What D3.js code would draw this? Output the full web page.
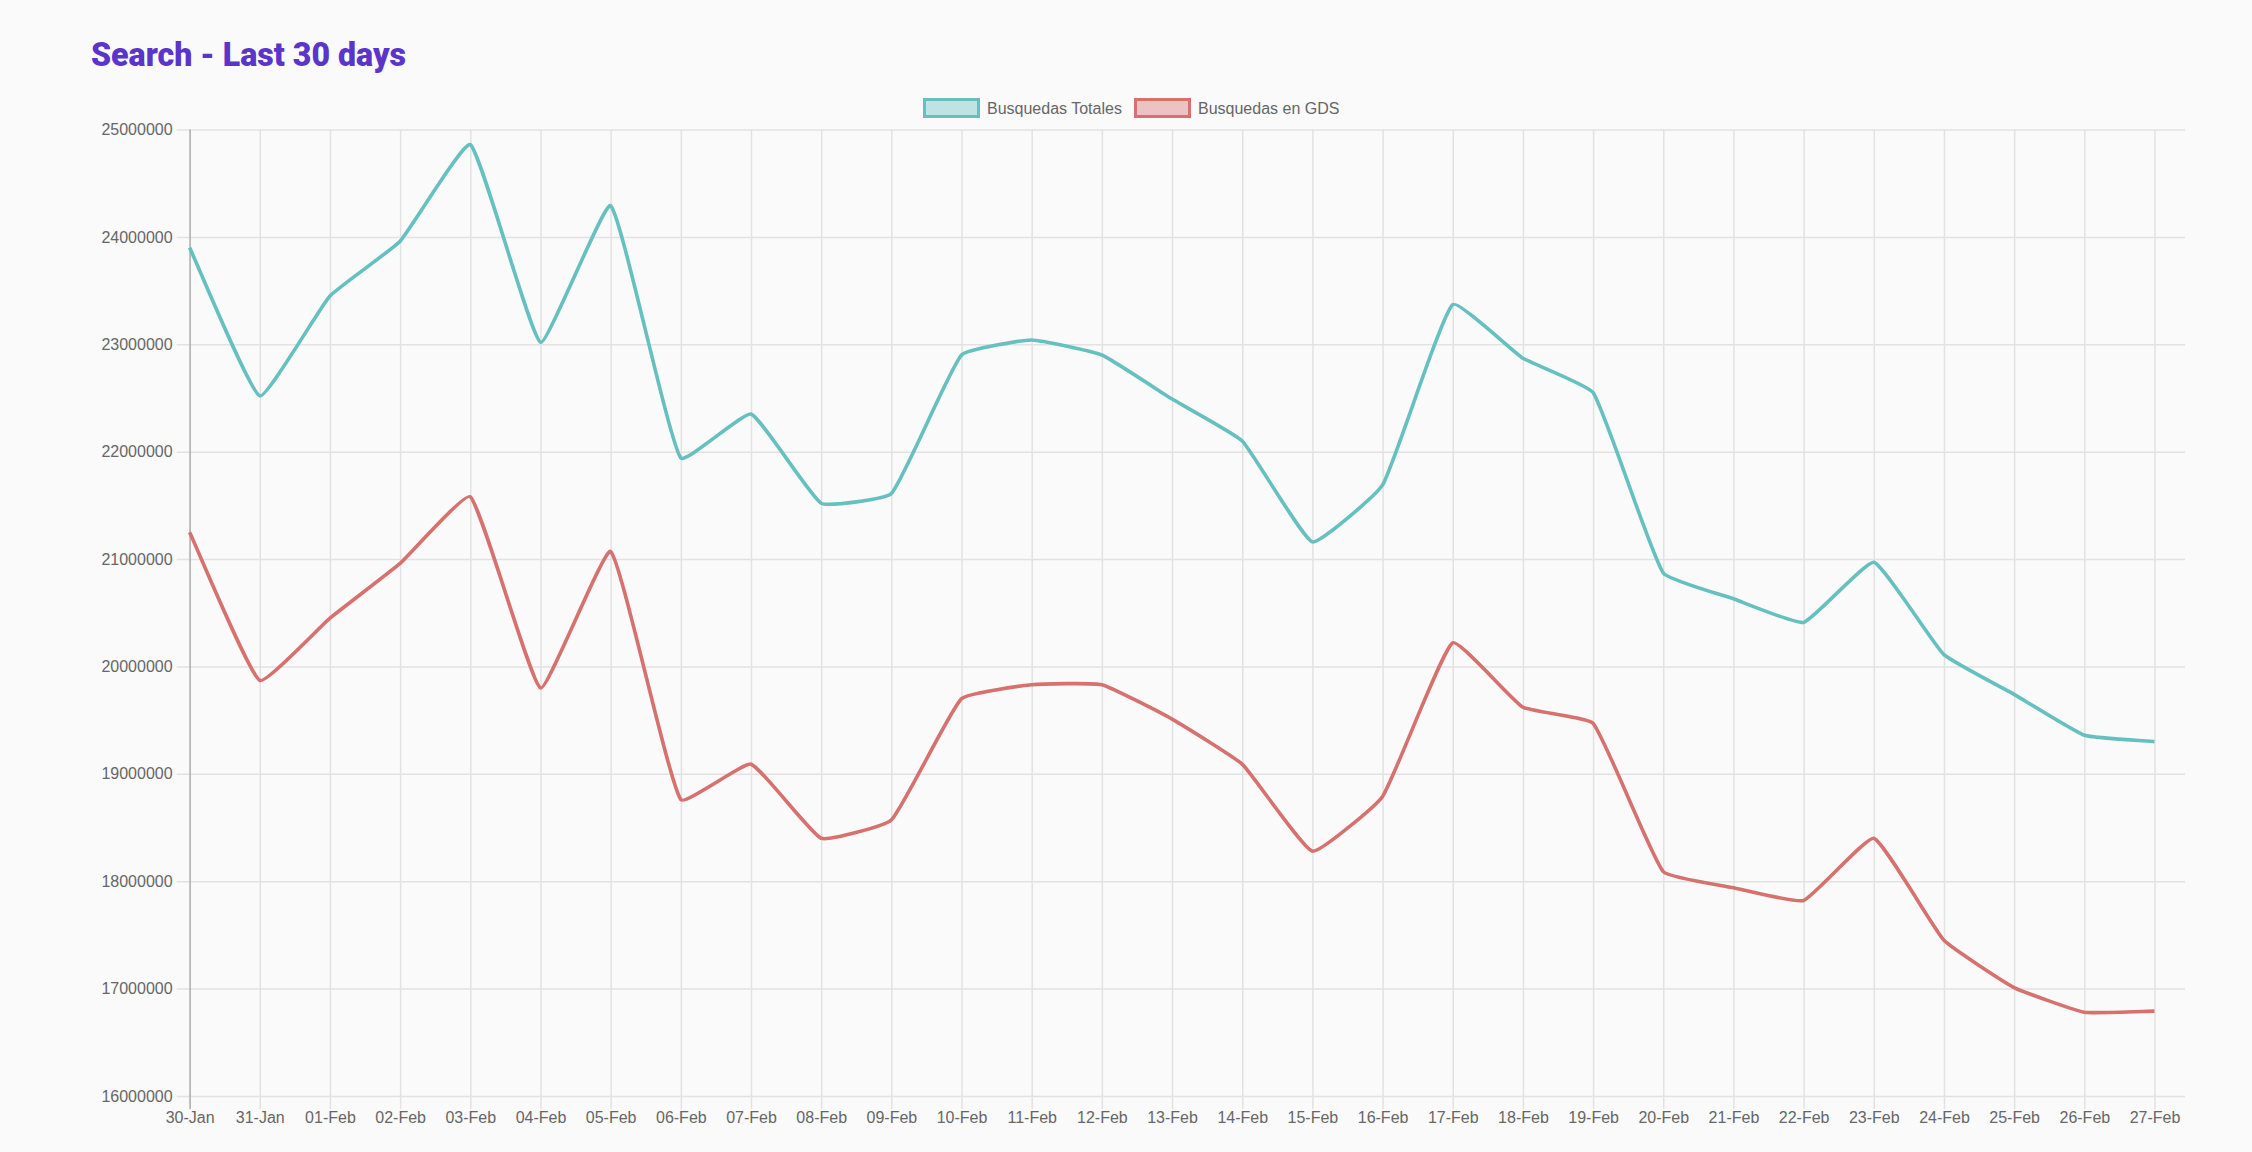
<!DOCTYPE html>
<html>
<head>
<meta charset="utf-8">
<script src="https://cdn.jsdelivr.net/npm/d3@7"></script>
<style>
    html, body { margin: 0; padding: 0; background: #fafafa; }
    #canvas { width: 2252px; height: 1152px; }
    text { font-family: "Liberation Sans", Arial, Helvetica, sans-serif; }
</style>
</head>
<body>
<div id="canvas"></div>
<script>
var days = ['30-Jan', '31-Jan', '01-Feb', '02-Feb', '03-Feb', '04-Feb', '05-Feb',
            '06-Feb', '07-Feb', '08-Feb', '09-Feb', '10-Feb', '11-Feb', '12-Feb',
            '13-Feb', '14-Feb', '15-Feb', '16-Feb', '17-Feb', '18-Feb', '19-Feb',
            '20-Feb', '21-Feb', '22-Feb', '23-Feb', '24-Feb', '25-Feb', '26-Feb',
            '27-Feb'];

var totales = [23900000, 22520000, 23450000, 23960000, 24860000, 23020000, 24290000,
               21940000, 22350000, 21520000, 21610000, 22900000, 23040000, 22900000,
               22490000, 22100000, 21160000, 21690000, 23370000, 22870000, 22550000,
               20870000, 20630000, 20410000, 20970000, 20110000, 19740000, 19360000,
               19300000];

var gds = [21250000, 19870000, 20450000, 20960000, 21580000, 19800000, 21070000,
           18760000, 19090000, 18400000, 18570000, 19700000, 19830000, 19830000,
           19510000, 19090000, 18280000, 18790000, 20220000, 19620000, 19470000,
           18090000, 17940000, 17820000, 18400000, 17450000, 17010000, 16780000,
           16790000];

var yTicks = [16000000, 17000000, 18000000, 19000000, 20000000,
              21000000, 22000000, 23000000, 24000000, 25000000];

var seriesNames = ['Busquedas Totales', 'Busquedas en GDS'];
var seriesColors = ['#66c0c0', '#d6716e'];

/* Сплайн как в Chart.js: контрольные точки зависят от длины соседних отрезков */
function splineCurve(tension, top, bottom)
{
    function Curve(context)
    {
        this._context = context;
    }

    Curve.prototype = {
        areaStart: function() {},
        areaEnd: function() {},
        lineStart: function() { this._pts = []; },
        point: function(x, y) { this._pts.push([x, y]); },
        lineEnd: function()
        {
            var pts = this._pts, ctx = this._context;
            var cps = pts.map(function(cur, i)
            {
                var prev = pts[i - 1] || cur;
                var next = pts[i + 1] || cur;
                var d01 = Math.hypot(cur[0] - prev[0], cur[1] - prev[1]);
                var d12 = Math.hypot(next[0] - cur[0], next[1] - cur[1]);
                var s01 = d01 / (d01 + d12) || 0;
                var s12 = d12 / (d01 + d12) || 0;
                var fa = tension * s01, fb = tension * s12;
                var clamp = function(v) { return Math.max(top, Math.min(bottom, v)); };
                return {
                    inX: cur[0] - fa * (next[0] - prev[0]),
                    inY: clamp(cur[1] - fa * (next[1] - prev[1])),
                    outX: cur[0] + fb * (next[0] - prev[0]),
                    outY: clamp(cur[1] + fb * (next[1] - prev[1]))
                };
            });

            ctx.moveTo(pts[0][0], pts[0][1]);
            for (var i = 1; i < pts.length; i++)
            {
                ctx.bezierCurveTo(cps[i - 1].outX, cps[i - 1].outY,
                                  cps[i].inX, cps[i].inY,
                                  pts[i][0], pts[i][1]);
            }
        }
    };

    return function(context) { return new Curve(context); };
}

var width = 2252;
var height = 1152;
var left = 189.6, right = 2154.5, plotTop = 129.5, plotBottom = 1096;

var svg = d3.select('#canvas').append('svg');
svg.attr('width', width)
   .attr('height', height);

svg.append('rect')
   .attr('width', width)
   .attr('height', height)
   .attr('fill', '#fafafa');

/* Заголовок */
svg.append('text')
   .attr('x', 91)
   .attr('y', 66)
   .attr('fill', '#5b35c9')
   .attr('font-size', 33)
   .attr('font-weight', 900)
   .attr('textLength', 315)
   .attr('lengthAdjust', 'spacingAndGlyphs')
   .style('font-family', 'Roboto, "Open Sans", sans-serif')
   .text('Search - Last 30 days');

var x = d3.scalePoint()
    .domain(days)
    .range([left, right]);

var y = d3.scaleLinear()
    .domain([16000000, 25000000])
    .range([plotBottom, plotTop]);

/* Горизонтальная сетка и подписи оси Y */
var yAxis = d3.axisLeft(y)
    .tickValues(yTicks)
    .tickFormat(d3.format('d'))
    .tickSize(-(2185 - left))
    .tickPadding(17);

var gy = svg.append('g')
    .attr('transform', 'translate(' + left + ',0)')
    .call(yAxis);
gy.select('.domain').remove();
gy.selectAll('.tick line')
  .attr('x1', -13)
  .attr('stroke', '#e2e2e2')
  .attr('stroke-width', 1.5);
gy.selectAll('.tick text')
  .attr('x', -17)
  .attr('fill', '#666')
  .attr('font-size', 16)
  .style('font-family', '"Liberation Sans", Arial, sans-serif');

/* Вертикальная сетка и подписи оси X */
var xAxis = d3.axisBottom(x)
    .tickSize(-(plotBottom - plotTop))
    .tickPadding(16);

var gx = svg.append('g')
    .attr('transform', 'translate(0,' + plotBottom + ')')
    .call(xAxis);
gx.select('.domain').remove();
gx.selectAll('.tick line')
  .attr('y1', 13)
  .attr('stroke', function(d, i) { return i === 0 ? '#aaa' : '#e2e2e2'; })
  .attr('stroke-width', 1.5);
gx.selectAll('.tick text')
  .attr('y', 16)
  .attr('dy', '0.71em')
  .attr('fill', '#666')
  .attr('font-size', 16)
  .style('font-family', '"Liberation Sans", Arial, sans-serif');

/* Линии серий */
var line = d3.line()
    .x(function(d, i) { return x(days[i]); })
    .y(function(d) { return y(d); })
    .curve(splineCurve(0.12, plotTop, plotBottom));

[totales, gds].forEach(function(values, i)
{
    svg.append('path')
       .attr('d', line(values))
       .attr('fill', 'none')
       .attr('stroke', seriesColors[i])
       .attr('stroke-width', 3.6)
       .attr('stroke-linejoin', 'round');
});

/* Легенда */
var legendX = [923, 1134];
var legend = svg.append('g');
seriesNames.forEach(function(name, i)
{
    legend.append('rect')
          .attr('x', legendX[i] + 1.5)
          .attr('y', 99.5)
          .attr('width', 54)
          .attr('height', 17)
          .attr('fill', seriesColors[i])
          .attr('fill-opacity', 0.4)
          .attr('stroke', seriesColors[i])
          .attr('stroke-width', 3);

    legend.append('text')
          .attr('x', legendX[i] + 64)
          .attr('y', 108)
          .attr('dy', '0.35em')
          .attr('fill', '#666')
          .attr('font-size', 16)
          .text(name);
});
</script>
</body>
</html>
